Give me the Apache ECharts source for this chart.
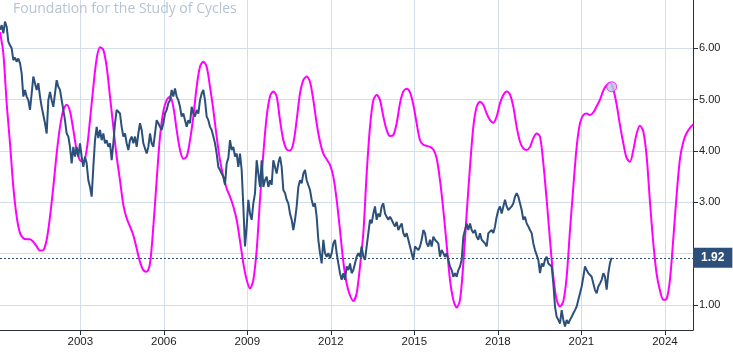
<!DOCTYPE html>
<html>
<head>
<meta charset="utf-8">
<script src="https://cdn.jsdelivr.net/npm/echarts@6/dist/echarts.min.js"></script>
<style>
html,body{margin:0;padding:0;background:#fff;}
#c{width:733px;height:356px;}
</style>
</head>
<body>
<div id="c"></div>
<script>
// ---- data (decimal years on x, yield % on y) ----
const TITLE = "Foundation for the Study of Cycles";
const X_MIN = 2000.116;
const X_MAX = 2025.008;
const X_TICKS = [2003, 2006, 2009, 2012, 2015, 2018, 2021, 2024];
const Y_MIN = 0.513;
const Y_MAX = 6.941;
const Y_TICKS = [1, 2, 3, 4, 5, 6];
const Y_LABELS = [1, 3, 4, 5, 6];
const LAST_VALUE = 1.92;

const BLUE_START = 2000.116;
const BLUE_STEP = 0.059866;
const blueValues = [
6.36,6.45,6.29,6.52,6.42,6.13,6.06,6.00,5.77,5.82,
5.74,5.80,5.71,5.51,5.06,5.19,5.06,4.99,4.80,5.12,
5.45,5.32,5.19,5.32,5.06,4.86,4.70,4.54,4.34,4.99,
5.15,4.99,4.86,5.12,5.38,5.25,5.19,4.99,4.80,4.60,
4.34,4.28,4.08,3.76,4.08,3.89,4.08,3.89,4.15,3.89,
3.69,3.89,3.76,3.43,3.30,3.11,3.69,4.21,4.47,4.25,
4.41,4.21,4.34,4.15,4.21,4.08,4.15,3.82,4.15,4.54,
4.80,4.77,
4.73,4.47,4.28,4.34,4.15,4.02,4.21,4.28,4.15,4.28,
4.08,4.34,4.54,4.41,4.15,4.05,3.95,4.08,4.34,4.15,
4.08,4.34,4.60,4.54,4.47,4.41,4.54,4.73,4.80,4.93,
4.99,5.19,5.06,5.22,5.06,4.99,4.86,4.67,4.73,4.70,
4.47,4.60,4.54,4.86,4.73,4.67,4.80,4.73,4.99,5.12,
5.19,4.99,4.67,4.60,4.47,4.41,4.28,4.15,3.95,3.69,
3.63,3.56,3.50,3.34,3.76,3.86,4.21,4.02,4.08,3.89,
3.95,3.69,
3.95,3.63,2.92,2.14,2.53,3.05,2.78,2.66,2.98,3.18,
3.82,3.56,3.30,3.82,3.30,3.43,3.50,3.30,3.43,3.34,
3.82,3.69,3.56,3.76,3.89,3.69,3.24,3.18,3.05,2.98,
2.78,2.66,2.46,2.66,2.92,3.30,3.43,3.37,3.56,3.63,
3.43,3.43,3.24,3.05,2.92,2.98,2.72,2.27,2.01,1.81,
2.27,2.01,1.94,2.01,1.91,2.01,2.20,2.27,2.01,1.81,
1.62,1.49,1.62,1.49,1.75,1.68,1.81,1.62,1.68,1.81,
1.94,2.01,
1.94,2.14,1.94,1.88,2.14,2.40,2.66,2.59,2.78,2.92,
2.66,2.78,2.72,2.92,2.98,2.78,2.72,2.66,2.72,2.66,
2.59,2.53,2.62,2.46,2.53,2.59,2.40,2.33,2.40,2.27,
2.14,2.01,1.88,2.14,2.14,2.07,2.14,2.27,2.46,2.40,
2.20,2.14,2.27,2.14,2.33,2.27,2.27,2.20,1.94,2.07,
2.01,1.94,2.01,1.88,1.75,1.68,1.55,1.62,1.55,1.68,
1.75,1.88,2.33,2.46,2.59,2.46,2.59,2.46,2.40,2.46,
2.33,2.27,
2.40,2.27,2.27,2.20,2.14,2.40,2.40,2.46,2.40,2.53,
2.72,2.85,2.92,2.78,2.92,3.05,2.92,2.85,2.85,2.92,
2.98,3.11,3.18,3.11,2.98,2.85,2.66,2.72,2.59,2.53,
2.46,2.40,2.20,2.07,2.07,1.88,1.62,1.81,1.75,1.88,
1.94,1.81,1.81,1.75,1.42,0.97,0.77,0.71,0.64,0.90,
0.71,0.58,0.71,0.64,0.71,0.77,0.84,0.90,0.97,1.10,
1.23,1.36,1.55,1.75,1.68,1.62,1.62,1.55,1.42,1.29,
1.23,1.36,1.42,1.49,1.62,1.55,1.30,1.62,1.82,1.92
];

const CYCLE_START = 2000.116;
const CYCLE_STEP = 0.11973;
const cycleValues = [
6.32,5.90,4.93,4.15,3.30,2.72,2.40,2.30,2.28,2.28,
2.23,2.14,2.06,2.07,2.27,2.72,3.30,3.95,4.47,4.80,
4.90,4.77,4.41,4.02,3.82,3.79,4.02,4.60,5.25,5.80,
6.02,5.97,5.64,5.06,4.47,3.89,
3.43,2.95,2.69,2.53,2.36,2.10,1.84,1.68,1.65,1.81,
2.53,3.43,4.28,4.77,4.99,5.06,4.86,4.41,4.02,3.85,
3.89,4.21,4.67,5.25,5.64,5.74,5.64,5.25,4.80,4.28,
3.82,3.50,3.27,3.11,2.92,2.66,
2.25,1.81,1.49,1.32,1.49,2.07,3.05,3.95,4.67,5.06,
5.16,5.06,4.60,4.21,4.03,4.01,4.15,4.60,5.12,5.38,
5.45,5.35,4.99,4.54,4.18,3.95,3.84,3.73,3.50,3.05,
2.46,1.84,1.42,1.19,1.08,1.23,
1.75,2.40,3.56,4.47,4.99,5.09,4.99,4.67,4.41,4.29,
4.31,4.54,4.93,5.16,5.21,5.14,4.90,4.54,4.21,4.12,
4.10,4.08,4.03,3.86,3.43,2.85,2.17,1.49,1.10,0.95,
1.10,1.81,2.78,3.69,4.47,4.86,
4.96,4.90,4.73,4.60,4.55,4.67,4.93,5.09,5.16,5.10,
4.86,4.47,4.18,4.05,4.02,4.08,4.25,4.34,4.28,3.76,
3.05,2.27,1.55,1.10,0.97,1.07,1.55,2.46,3.30,4.08,
4.54,4.70,4.73,4.70,4.75,4.87,
5.00,5.18,5.28,5.33,5.20,4.90,4.50,4.15,3.86,3.79,
4.02,4.34,4.49,4.38,3.89,3.00,2.20,1.60,1.28,1.10,
1.12,1.50,2.30,3.15,3.85,4.18,4.35,4.45,4.52
];

const MARKER_POINT = [2022.088, 5.25];

// ---- colours ----
const BLUE = '#2c5079';
const MAGENTA = '#ff00ff';
const GRID = '#d3deeb';
const AXIS = '#2a2e39';

const blueData = blueValues.map((v, i) => [BLUE_START + i * BLUE_STEP, v]);
const cycleData = cycleValues.map((v, i) => [CYCLE_START + i * CYCLE_STEP, v]);

const chart = echarts.init(document.getElementById('c'), null, {renderer: 'canvas'});
chart.setOption({
  animation: false,
  backgroundColor: '#ffffff',
  title: {
    text: TITLE,
    left: 8,
    top: -3,
    textStyle: {fontFamily: 'Open Sans', fontSize: 14, fontWeight: 'normal', color: '#b7c3d3'}
  },
  grid: {left: 0, right: 40, top: 0, bottom: 26, containLabel: false},
  xAxis: {
    type: 'value',
    min: X_MIN,
    max: X_MAX,
    axisLine: {show: true, lineStyle: {color: AXIS, width: 1}},
    axisTick: {show: true, length: 5, customValues: X_TICKS, lineStyle: {color: AXIS}},
    axisLabel: {
      customValues: X_TICKS,
      formatter: v => String(Math.round(v)),
      color: '#222', fontSize: 11.5, fontFamily: 'Liberation Sans', margin: 6
    },
    splitLine: {show: true, lineStyle: {color: GRID, width: 1}}
  },
  yAxis: {
    type: 'value',
    position: 'right',
    min: Y_MIN,
    max: Y_MAX,
    axisLine: {show: true, lineStyle: {color: AXIS, width: 1}},
    axisTick: {show: true, length: 5, customValues: Y_TICKS, lineStyle: {color: AXIS}},
    axisLabel: {
      customValues: Y_LABELS,
      formatter: v => v.toFixed(2),
      color: '#222', fontSize: 11, fontFamily: 'Liberation Sans', margin: 6
    },
    splitLine: {show: true, lineStyle: {color: GRID, width: 1}}
  },
  series: [
    {
      type: 'line',
      data: cycleData,
      showSymbol: false,
      smooth: 0.3,
      lineStyle: {color: MAGENTA, width: 2},
      z: 2
    },
    {
      type: 'line',
      data: blueData,
      showSymbol: false,
      lineStyle: {color: BLUE, width: 2},
      z: 3,
      markLine: {
        silent: true,
        symbol: ['none', 'none'],
        lineStyle: {color: BLUE, type: [2, 2], width: 1},
        label: {
          show: true,
          position: 'end',
          distance: 0,
          formatter: LAST_VALUE.toFixed(2),
          backgroundColor: BLUE,
          color: '#ffffff',
          fontWeight: 'bold',
          fontSize: 12,
          fontFamily: 'Liberation Sans',
          padding: [4, 8, 4, 8]
        },
        data: [{yAxis: LAST_VALUE}]
      }
    },
    {
      type: 'scatter',
      data: [MARKER_POINT],
      symbol: 'circle',
      symbolSize: 10,
      itemStyle: {color: '#b5c9e2', borderColor: MAGENTA, borderWidth: 1},
      z: 4
    }
  ]
});
</script>
</body>
</html>
